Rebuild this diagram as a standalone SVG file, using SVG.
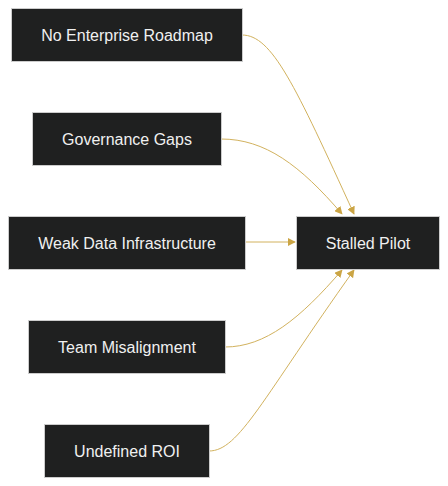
<svg xmlns="http://www.w3.org/2000/svg" width="448" height="486" viewBox="0 0 448 486">
<style>
.node rect{fill:#1f2020;stroke:#cccccc;stroke-width:1}
.node text{fill:#f0f0f0;font-family:"Liberation Sans",Arial,sans-serif;font-size:16px;text-anchor:middle;dominant-baseline:central}
.edge{fill:none;stroke:#d2b25e;stroke-width:1;marker-end:url(#arr)}
</style>
<defs>
<marker id="arr" viewBox="0 0 10 10" refX="9" refY="5" markerWidth="8" markerHeight="8" markerUnits="userSpaceOnUse" orient="auto">
<path d="M0,0 L10,5 L0,10 z" fill="#cba545"/>
</marker>
</defs>
<rect width="448" height="486" fill="#ffffff"/>
<g id="edges">
<path class="edge" d="M242,35 C272,35 295,85 354,214"/>
<path class="edge" d="M221,139 C265,139 300,165 342,214"/>
<path class="edge" d="M245,242 L295,242"/>
<path class="edge" d="M225,347 C265,347 300,319 342,270"/>
<path class="edge" d="M209,451 C239,451 262,399 354,270"/>
</g>
<g id="n1" class="node"><rect x="11.5" y="8.5" width="231" height="53"/><text x="127" y="35">No Enterprise Roadmap</text></g>
<g id="n2" class="node"><rect x="32.5" y="112.5" width="189" height="53"/><text x="127" y="139">Governance Gaps</text></g>
<g id="n3" class="node"><rect x="8.5" y="216.5" width="237" height="53"/><text x="127" y="243">Weak Data Infrastructure</text></g>
<g id="n4" class="node"><rect x="28.5" y="320.5" width="197" height="53"/><text x="127" y="347">Team Misalignment</text></g>
<g id="n5" class="node"><rect x="44.5" y="424.5" width="165" height="53"/><text x="127" y="451">Undefined ROI</text></g>
<g id="n6" class="node"><rect x="296.5" y="216.5" width="143" height="53"/><text x="368" y="243">Stalled Pilot</text></g>
</svg>
